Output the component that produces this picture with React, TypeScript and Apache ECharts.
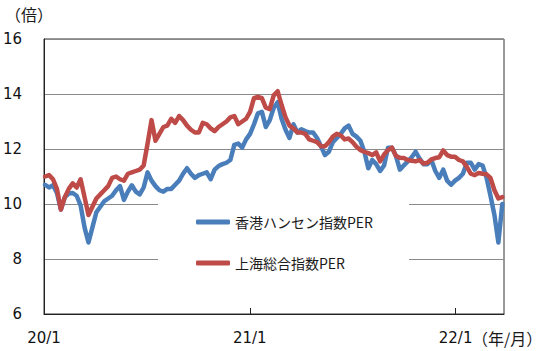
import React, { useEffect, useRef } from 'react';
import * as echarts from 'echarts';

// Weekly observation dates (Fridays)
const dates: string[] = [
  '2020-01-03','2020-01-10','2020-01-17','2020-01-24','2020-01-31',
  '2020-02-07','2020-02-14','2020-02-21','2020-02-28',
  '2020-03-06','2020-03-13','2020-03-20','2020-03-27',
  '2020-04-03','2020-04-10','2020-04-17','2020-04-24',
  '2020-05-01','2020-05-08','2020-05-15','2020-05-22','2020-05-29',
  '2020-06-05','2020-06-12','2020-06-19','2020-06-26',
  '2020-07-03','2020-07-10','2020-07-17','2020-07-24','2020-07-31',
  '2020-08-07','2020-08-14','2020-08-21','2020-08-28',
  '2020-09-04','2020-09-11','2020-09-18','2020-09-25',
  '2020-10-02','2020-10-09','2020-10-16','2020-10-23','2020-10-30',
  '2020-11-06','2020-11-13','2020-11-20','2020-11-27',
  '2020-12-04','2020-12-11','2020-12-18','2020-12-25',
  '2021-01-01','2021-01-08','2021-01-15','2021-01-22','2021-01-29',
  '2021-02-05','2021-02-12','2021-02-19','2021-02-26',
  '2021-03-05','2021-03-12','2021-03-19','2021-03-26',
  '2021-04-02','2021-04-09','2021-04-16','2021-04-23','2021-04-30',
  '2021-05-07','2021-05-14','2021-05-21','2021-05-28',
  '2021-06-04','2021-06-11','2021-06-18','2021-06-25',
  '2021-07-02','2021-07-09','2021-07-16','2021-07-23','2021-07-30',
  '2021-08-06','2021-08-13','2021-08-20','2021-08-27',
  '2021-09-03','2021-09-10','2021-09-17','2021-09-24',
  '2021-10-01','2021-10-08','2021-10-15','2021-10-22','2021-10-29',
  '2021-11-05','2021-11-12','2021-11-19','2021-11-26',
  '2021-12-03','2021-12-10','2021-12-17','2021-12-24','2021-12-31',
  '2022-01-07','2022-01-14','2022-01-21','2022-01-28',
  '2022-02-04','2022-02-11','2022-02-18','2022-02-25',
  '2022-03-04','2022-03-11','2022-03-18','2022-03-25',
];

const hangSengPER: number[] = [
  10.70, 10.60, 10.68, 10.40, 9.80, 10.25, 10.38, 10.40, 10.30, 9.95,
  9.15, 8.60, 9.15, 9.70, 9.90, 10.10, 10.20, 10.30, 10.50, 10.65,
  10.15, 10.45, 10.68, 10.45, 10.35, 10.60, 11.15, 10.85, 10.65, 10.50,
  10.45, 10.55, 10.55, 10.70, 10.85, 11.10, 11.30, 11.10, 10.95, 11.05,
  11.10, 11.15, 10.90, 11.25, 11.38, 11.45, 11.50, 11.60, 12.15, 12.20,
  12.05, 12.35, 12.55, 12.90, 13.30, 13.35, 12.80, 13.05, 13.50, 13.70,
  13.10, 12.70, 12.40, 12.90, 12.60, 12.72, 12.65, 12.60, 12.60, 12.40,
  12.10, 11.78, 11.90, 12.25, 12.40, 12.55, 12.75, 12.85, 12.55, 12.45,
  12.30, 11.90, 11.30, 11.60, 11.45, 11.20, 11.40, 12.05, 12.05, 11.75,
  11.25, 11.40, 11.55, 11.70, 11.90, 11.65, 11.45, 11.45, 11.60, 11.20,
  10.95, 11.25, 10.85, 10.70, 10.85, 10.95, 11.10, 11.50, 11.50, 11.25,
  11.45, 11.40, 10.95, 10.30, 9.60, 8.60, 10.00,
];

const shanghaiPER: number[] = [
  11.00, 11.05, 10.90, 10.55, 9.80, 10.25, 10.55, 10.75, 10.60, 10.90,
  10.25, 9.60, 9.90, 10.20, 10.35, 10.50, 10.65, 10.95, 11.00, 10.90,
  10.85, 11.10, 11.15, 11.20, 11.25, 11.40, 12.20, 13.05, 12.30, 12.55,
  12.80, 12.85, 13.10, 12.95, 13.20, 13.05, 12.85, 12.70, 12.60, 12.60,
  12.95, 12.90, 12.75, 12.65, 12.80, 12.90, 13.00, 13.15, 13.20, 12.90,
  13.00, 13.10, 13.35, 13.85, 13.90, 13.85, 13.50, 13.45, 13.95, 14.10,
  13.60, 13.15, 12.85, 12.75, 12.60, 12.60, 12.55, 12.35, 12.30, 12.25,
  12.10, 12.10, 12.25, 12.45, 12.55, 12.50, 12.35, 12.38, 12.25, 12.08,
  11.96, 11.90, 11.85, 11.78, 11.88, 11.55, 11.80, 11.96, 12.05, 11.75,
  11.68, 11.67, 11.60, 11.57, 11.55, 11.60, 11.47, 11.50, 11.62, 11.67,
  11.70, 11.95, 11.78, 11.72, 11.72, 11.60, 11.55, 11.35, 11.10, 11.05,
  11.13, 11.10, 11.08, 10.95, 10.50, 10.20, 10.25,
];

const seriesNames = ['香港ハンセン指数PER', '上海総合指数PER'];
const seriesColors = ['#4A7EBB', '#BE4B48'];
const xTickLabels = ['20/1', '21/1', '22/1'];
const axisStart = '2020-01-01';
const axisEnd = '2022-03-28';
const yMin = 6;
const yMax = 16;
const yStep = 2;
const yUnit = '（倍）';
const xUnit = '（年/月）';

const DAY_MS = 86400000;
const YEAR_DAYS = 365.5;
const toDay = (d: string) => (Date.parse(d) - Date.parse(axisStart)) / DAY_MS;

export default function App() {
  const ref = useRef<HTMLDivElement>(null);

  useEffect(() => {
    if (!ref.current) return;
    const chart = echarts.init(ref.current, undefined, { renderer: 'svg' });
    const cjk = 'Noto Sans CJK JP';
    const num = 'DejaVu Sans';

    chart.setOption({
      animation: false,
      color: seriesColors,
      grid: {
        left: 44,
        right: 46,
        top: 39,
        bottom: 37,
        show: true,
        borderColor: '#333',
        borderWidth: 1,
        backgroundColor: 'transparent',
        outerBoundsMode: 'none',
      },
      xAxis: {
        type: 'value',
        min: 0,
        max: toDay(axisEnd),
        interval: YEAR_DAYS,
        splitLine: { show: false },
        axisLine: { show: true, lineStyle: { color: '#222', width: 1 } },
        axisTick: { show: true, inside: true, length: 6, lineStyle: { color: '#222' } },
        axisLabel: {
          margin: 16,
          fontFamily: num,
          fontSize: 15,
          color: '#111',
          showMaxLabel: false,
          formatter: (v: number) => {
            const k = Math.round(v / YEAR_DAYS);
            return Math.abs(v - k * YEAR_DAYS) < 1 ? xTickLabels[k] ?? '' : '';
          },
        },
      },
      yAxis: {
        type: 'value',
        min: yMin,
        max: yMax,
        interval: yStep,
        axisLine: { show: true, lineStyle: { color: '#222', width: 1 } },
        axisTick: { show: false },
        splitLine: { show: true, lineStyle: { color: '#8a8a8a', width: 1 } },
        axisLabel: { margin: 22, fontFamily: num, fontSize: 15, color: '#111' },
      },
      legend: {
        orient: 'vertical',
        left: 158,
        top: 196,
        backgroundColor: '#ffffff',
        padding: [19, 36, 12, 38],
        itemWidth: 34,
        itemHeight: 5,
        itemGap: 27,
        icon: 'roundRect',
        data: seriesNames,
        textStyle: { fontFamily: cjk, fontSize: 14, color: '#1a1a1a' },
      },
      graphic: [
        {
          type: 'text',
          left: 5,
          top: 6,
          style: { text: yUnit, fontFamily: cjk, fontSize: 16, fill: '#1a1a1a' },
        },
        {
          type: 'text',
          left: 472,
          top: 330,
          style: { text: xUnit, fontFamily: cjk, fontSize: 16, fill: '#1a1a1a' },
        },
      ],
      series: [
        {
          name: seriesNames[0],
          type: 'line',
          data: dates.map((d, i) => [toDay(d), hangSengPER[i]]),
          showSymbol: false,
          symbol: 'none',
          lineStyle: { width: 4.5, color: seriesColors[0], join: 'round', cap: 'round' },
        },
        {
          name: seriesNames[1],
          type: 'line',
          data: dates.map((d, i) => [toDay(d), shanghaiPER[i]]),
          showSymbol: false,
          symbol: 'none',
          lineStyle: { width: 4.5, color: seriesColors[1], join: 'round', cap: 'round' },
        },
      ],
    });

    return () => chart.dispose();
  }, []);

  return <div ref={ref} style={{ width: 550, height: 351, position: 'absolute', left: 0, top: 0 }} />;
}
